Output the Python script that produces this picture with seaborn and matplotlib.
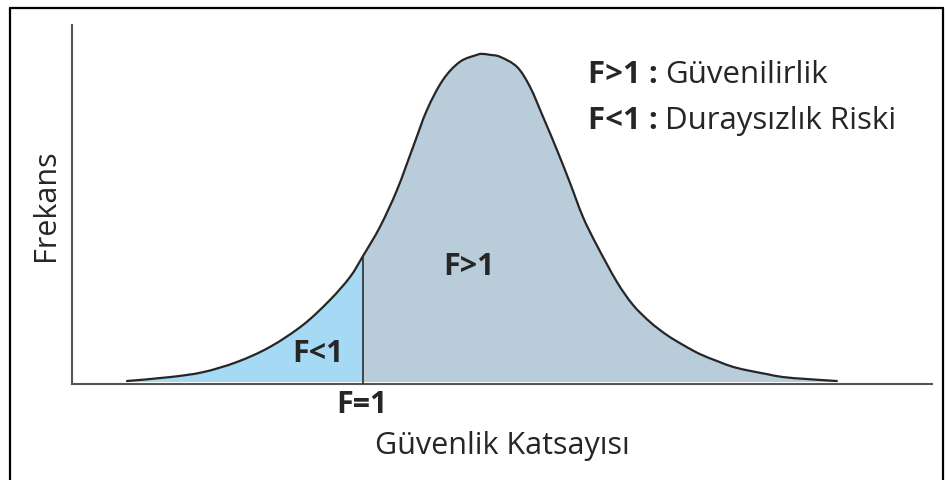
import matplotlib
matplotlib.use("Agg")
import matplotlib.pyplot as plt
import seaborn as sns
import numpy as np
from matplotlib.lines import Line2D
from matplotlib.path import Path
from matplotlib.patches import PathPatch

# ---- data ----
safety_factor = [0.000, 0.182, 0.322, 0.466, 0.606, 0.746, 0.860, 0.945, 1.000,
                 1.072, 1.144, 1.212, 1.271, 1.339, 1.411, 1.483, 1.504, 1.538,
                 1.581, 1.653, 1.708, 1.763, 1.822, 1.877, 1.932, 1.992, 2.076,
                 2.144, 2.216, 2.288, 2.356, 2.428, 2.500, 2.568, 2.640, 2.712,
                 2.780, 2.881, 3.008]
frequency = [0.003, 0.015, 0.030, 0.061, 0.107, 0.174, 0.250, 0.320, 0.384,
             0.473, 0.585, 0.716, 0.829, 0.921, 0.976, 0.997, 1.000, 0.997,
             0.991, 0.960, 0.899, 0.808, 0.707, 0.607, 0.503, 0.415, 0.305,
             0.235, 0.183, 0.143, 0.113, 0.085, 0.064, 0.046, 0.034, 0.024,
             0.015, 0.009, 0.003]
threshold = 1.0
region_labels = ["F<1", "F>1"]
threshold_label = "F=1"
x_label = "Güvenlik Katsayısı"
y_label = "Frekans"
legend_keys = ["F>1 :", "F<1 :"]
legend_texts = ["Güvenilirlik", "Duraysızlık Riski"]

sns.set_theme(style="white")
plt.rcParams["font.family"] = ["Open Sans", "DejaVu Sans"]

W, H = 946, 480
fig = plt.figure(figsize=(W / 100, H / 100), dpi=100)
fig.patch.set_facecolor("white")

def fx(px):
    return px / W

def fy(py):
    return 1 - py / H

ax = fig.add_axes([fx(72), fy(384), fx(932) - fx(72), fy(25) - fy(384)])
ax.set_facecolor("white")

P = np.column_stack([safety_factor, frequency])
n = len(P)
thr_idx = int(np.argmin(np.abs(P[:, 0] - threshold)))


def smooth_segments(i0, i1):
    """Cubic Bezier (Catmull-Rom) segments through the read points i0..i1."""
    verts, codes = [], []
    for i in range(i0, i1):
        p0 = P[max(i - 1, 0)]
        p1 = P[i]
        p2 = P[i + 1]
        p3 = P[min(i + 2, n - 1)]
        c1 = p1 + (p2 - p0) / 6.0
        c2 = p2 - (p3 - p1) / 6.0
        verts += [tuple(c1), tuple(c2), tuple(p2)]
        codes += [Path.CURVE4] * 3
    return verts, codes


def region_path(i0, i1):
    verts = [(P[i0, 0], 0.0), tuple(P[i0])]
    codes = [Path.MOVETO, Path.LINETO]
    v, c = smooth_segments(i0, i1)
    verts += v
    codes += c
    verts += [(P[i1, 0], 0.0), (P[i0, 0], 0.0)]
    codes += [Path.LINETO, Path.CLOSEPOLY]
    return Path(verts, codes)


ax.add_patch(PathPatch(region_path(0, thr_idx), facecolor="#a6d9f4",
                       edgecolor="none", zorder=1))
ax.add_patch(PathPatch(region_path(thr_idx, n - 1), facecolor="#b8ccda",
                       edgecolor="none", zorder=1))

v, c = smooth_segments(0, n - 1)
curve = Path([tuple(P[0])] + v, [Path.MOVETO] + c)
ax.add_patch(PathPatch(curve, facecolor="none", edgecolor="#262626",
                       linewidth=1.6, zorder=4, capstyle="round"))

# F=1 divider (estimator=None so the two points are not averaged together)
sns.lineplot(x=[threshold, threshold], y=[-0.0061, frequency[thr_idx]],
             estimator=None, sort=False, color="#2e2e2e", linewidth=1.2,
             ax=ax, zorder=3)

ax.set_xlim(-0.233, 3.411)
ax.set_ylim(-0.0061, 1.088)
ax.set_xticks([])
ax.set_yticks([])
ax.set_xlabel("")
ax.set_ylabel("")
for s in ["top", "right"]:
    ax.spines[s].set_visible(False)
for s in ["left", "bottom"]:
    ax.spines[s].set_color("#555555")
    ax.spines[s].set_linewidth(1.5)

TXT = "#262626"
# region labels
ax.text(0.81, 0.085, region_labels[0], ha="center", va="center",
        fontsize=22, fontweight="bold", color=TXT, zorder=5)
ax.text(1.45, 0.35, region_labels[1], ha="center", va="center",
        fontsize=22, fontweight="bold", color=TXT, zorder=5)

# threshold label and axis titles
fig.text(fx(362), fy(405), threshold_label, ha="center", va="center",
         fontsize=22, fontweight="bold", color=TXT)
fig.text(fx(502), fy(446), x_label, ha="center", va="center",
         fontsize=22, color=TXT)
fig.text(fx(46), fy(205), y_label, ha="center", va="center", rotation=90,
         fontsize=22, color=TXT)

# legend-like annotation
fig.canvas.draw()
renderer = fig.canvas.get_renderer()
for i, (k, t) in enumerate(zip(legend_keys, legend_texts)):
    ypos = fy(75 + 46 * i)
    tk = fig.text(fx(588), ypos, k, ha="left", va="center", fontsize=22.5,
                  fontweight="bold", color=TXT)
    bb = tk.get_window_extent(renderer=renderer)
    fig.text((bb.x1 + 7) / W, ypos, t, ha="left", va="center", fontsize=22.5,
             color=TXT)

# outer frame
for (x0, y0, x1, y1) in [(10, 8, 10, 480), (10, 8, 943, 8), (943, 8, 943, 480)]:
    fig.add_artist(Line2D([fx(x0), fx(x1)], [fy(y0), fy(y1)], color="black",
                          linewidth=1.6, transform=fig.transFigure))

fig.savefig("out.png", dpi=100, facecolor="white")
